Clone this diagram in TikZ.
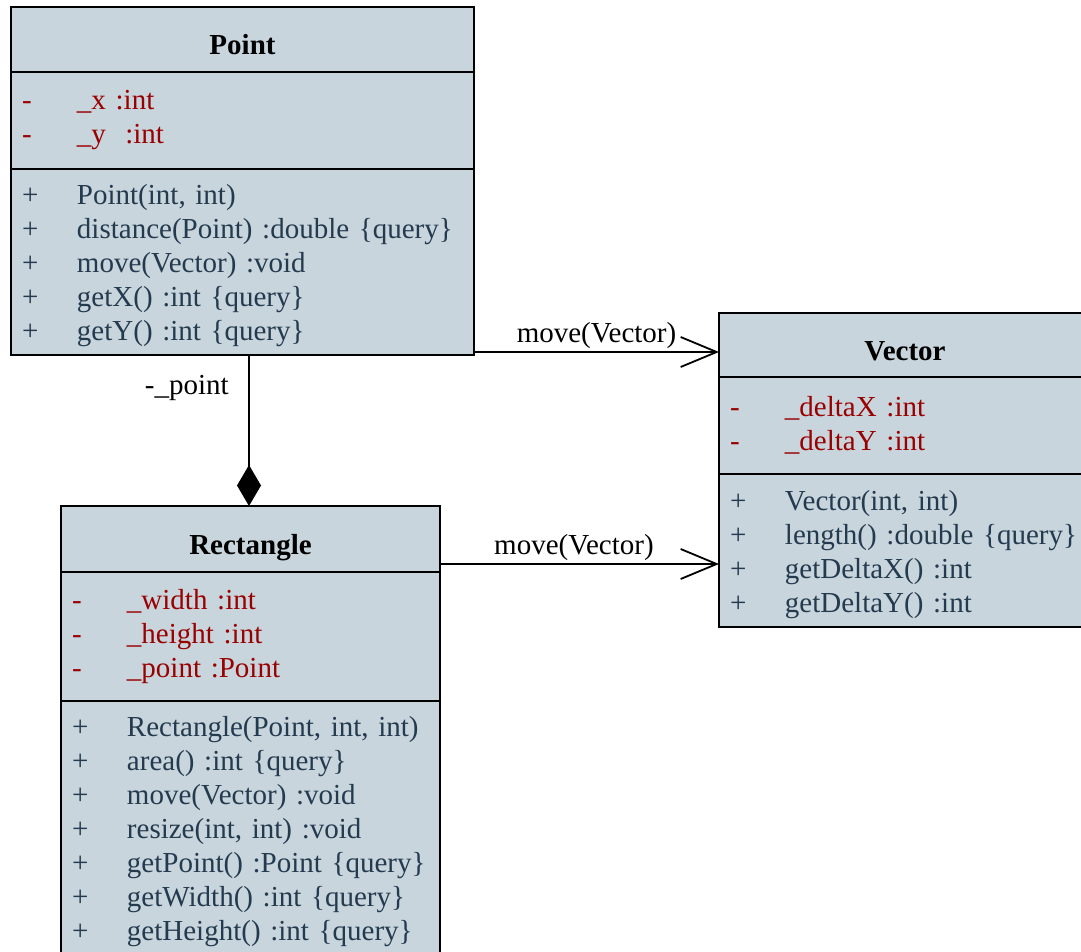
\documentclass[tikz,border=0pt]{standalone}
\usepackage{fontspec}
\setmainfont{Liberation Serif}
\usepackage{tikz}
\usetikzlibrary{positioning,arrows.meta}
\definecolor{umlfill}{HTML}{C8D5DD}
\definecolor{attrred}{HTML}{990000}
\definecolor{opblue}{HTML}{243A4E}
\newcommand{\umlfont}{\fontsize{29}{34}\selectfont}
\newcommand{\mem}[2]{\makebox[55pt][l]{#1}\mbox{#2}}

\begin{document}
\begin{tikzpicture}[
  x=1pt, y=1pt,
  every node/.style={font=\umlfont},
  head/.style={draw, fill=umlfill, line width=1.8pt, outer sep=0pt, font=\umlfont\bfseries, text height=30pt, text depth=0pt},
  attrs/.style={draw, fill=umlfill, line width=1.8pt, outer sep=0pt, align=left, inner xsep=11pt, text=attrred},
  ops/.style={draw, fill=umlfill, line width=1.8pt, outer sep=0pt, align=left, inner xsep=11pt, text=opblue},
  dep/.style={-{Straight Barb[length=36pt, width=30pt]}, line width=1.8pt},
  comp/.style={-{Diamond[length=41pt, width=24pt]}, line width=1.8pt},
]
  \useasboundingbox (0,0) rectangle (1081,-952);

  % Point
  \node[head, minimum width=463pt, minimum height=65pt, anchor=north west] (point) at (11,-7) {Point};
  \node[attrs, text width=441pt, minimum height=97pt, below=0pt of point] (point-attr)
    {\mem{-}{\_x :int}\\ \mem{-}{\_y \ :int}};
  \node[ops, text width=441pt, minimum height=186pt, below=0pt of point-attr] (point-ops)
    {\rule{0pt}{28pt}\mem{+}{Point(int, int)}\\ \mem{+}{distance(Point) :double \{query\}}\\ \mem{+}{move(Vector) :void}\\
     \mem{+}{getX() :int \{query\}}\\ \mem{+}{getY() :int \{query\}}};

  % Vector
  \node[head, minimum width=372pt, minimum height=64pt, anchor=north west] (vector) at (719,-313) {Vector};
  \node[attrs, text width=350pt, minimum height=97pt, below=0pt of vector] (vector-attr)
    {\mem{-}{\_deltaX :int}\\ \mem{-}{\_deltaY :int}};
  \node[ops, text width=350pt, minimum height=153pt, below=0pt of vector-attr] (vector-ops)
    {\rule{0pt}{28pt}\mem{+}{Vector(int, int)}\\ \mem{+}{length() :double \{query\}}\\ \mem{+}{getDeltaX() :int}\\
     \mem{+}{getDeltaY() :int}};

  % Rectangle
  \node[head, minimum width=379pt, minimum height=66pt, anchor=north west] (rect) at (61,-506) {Rectangle};
  \node[attrs, text width=357pt, minimum height=129pt, below=0pt of rect] (rect-attr)
    {\mem{-}{\_width :int}\\ \mem{-}{\_height :int}\\ \mem{-}{\_point :Point}};
  \node[ops, text width=357pt, minimum height=254pt, below=0pt of rect-attr] (rect-ops)
    {\rule{0pt}{28pt}\mem{+}{Rectangle(Point, int, int)}\\ \mem{+}{area() :int \{query\}}\\ \mem{+}{move(Vector) :void}\\
     \mem{+}{resize(int, int) :void}\\ \mem{+}{getPoint() :Point \{query\}}\\
     \mem{+}{getWidth() :int \{query\}}\\ \mem{+}{getHeight() :int \{query\}}};

  \draw[dep] ([yshift=3pt]point-ops.south east) -- node[above, inner sep=2pt] {move(Vector)} ([yshift=3pt]point-ops.south east -| vector.west);
  \draw[dep] ([yshift=8pt]rect.south east) -- node[above, pos=0.48, inner sep=2pt] {move(Vector)} ([yshift=8pt]rect.south east -| vector-ops.west);
  \draw[comp] ([xshift=-1.5pt]rect.north |- point-ops.south) -- node[pos=0.22, left=16pt] {-\_point} ([xshift=-1.5pt]rect.north);
\end{tikzpicture}
\end{document}
